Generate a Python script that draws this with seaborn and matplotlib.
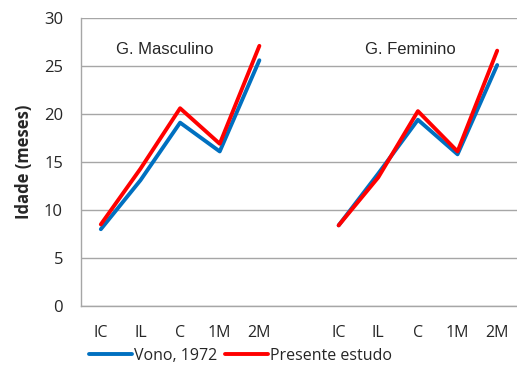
import matplotlib
matplotlib.use("Agg")
import matplotlib.pyplot as plt
import seaborn as sns
import pandas as pd
import numpy as np

categorias = ["IC", "IL", "C", "1M", "2M"]
grupos = ["G. Masculino", "G. Feminino"]
vono_masc = [8.0, 13.1, 19.1, 16.1, 25.6]
vono_fem = [8.4, 13.8, 19.4, 15.8, 25.1]
presente_masc = [8.5, 14.3, 20.6, 16.9, 27.1]
presente_fem = [8.4, 13.4, 20.3, 16.1, 26.6]
series = ["Vono, 1972", "Presente estudo"]
cores = ["#0070C0", "#FF0000"]

rows = []
for gi, (g, vv, pp) in enumerate(zip(grupos, [vono_masc, vono_fem], [presente_masc, presente_fem])):
    for ci, c in enumerate(categorias):
        pos = ci + gi * (len(categorias) + 1)
        rows.append({"pos": pos, "grupo": g, "serie": series[0], "valor": vv[ci]})
        rows.append({"pos": pos, "grupo": g, "serie": series[1], "valor": pp[ci]})
df = pd.DataFrame(rows)

sns.set_theme(style="white")
plt.rcParams["font.family"] = ["Open Sans", "DejaVu Sans"]

fig = plt.figure(figsize=(5.17, 3.69), dpi=100)
ax = fig.add_axes([0.1567, 0.1707, 0.8433, 0.7805])

sns.lineplot(data=df, x="pos", y="valor", hue="serie", units="grupo", estimator=None,
             palette=cores, hue_order=series, linewidth=2.8, ax=ax, legend=False, sort=False)

ax.set_xlim(-0.5, 10.5)
ax.set_ylim(0, 30)
ax.set_yticks(np.arange(0, 31, 5))
ax.set_yticklabels([str(v) for v in range(0, 31, 5)], fontsize=12)
ticks = [ci + gi * (len(categorias) + 1) for gi in range(2) for ci in range(len(categorias))]
ax.set_xticks(ticks)
ax.set_xticklabels(categorias * 2, fontsize=11.5)
ax.tick_params(axis="x", length=0, pad=14)
ax.tick_params(axis="y", length=0, pad=13)
ax.grid(axis="y", color="#A6A6A6", linewidth=1)
ax.set_axisbelow(True)
for s in ["top", "right"]:
    ax.spines[s].set_visible(False)
for s in ["left", "bottom"]:
    ax.spines[s].set_color("#A6A6A6")
    ax.spines[s].set_linewidth(1)
ax.set_xlabel("")
ax.set_ylabel("Idade (meses)", fontsize=12, fontweight="bold", labelpad=8)

ax.text(1.62, 26.7, grupos[0], fontsize=12, ha="center", va="center",
        family=["Liberation Sans", "DejaVu Sans"])
ax.text(7.82, 26.7, grupos[1], fontsize=12, ha="center", va="center",
        family=["Liberation Sans", "DejaVu Sans"])

from matplotlib.lines import Line2D
handles = [Line2D([0], [0], color=c, linewidth=2.8) for c in cores]
fig.legend(handles, series, loc="center", bbox_to_anchor=(0.465, 0.035), ncol=2,
           frameon=False, fontsize=11.5, handlelength=2.7, handletextpad=0.1,
           columnspacing=0.5, borderpad=0)

fig.savefig("out.png", dpi=100)
